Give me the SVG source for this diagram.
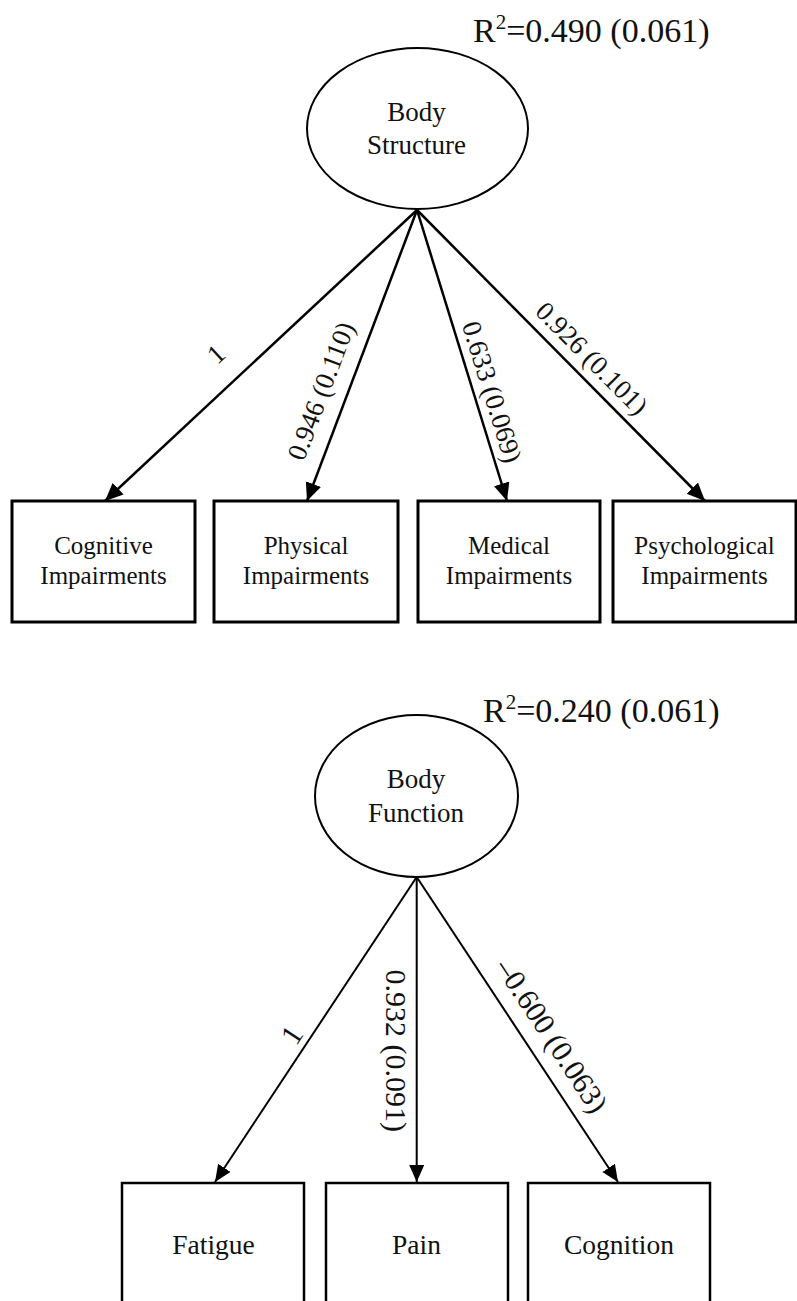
<svg xmlns="http://www.w3.org/2000/svg" width="797" height="1301" viewBox="0 0 797 1301">
  <style>
    text { font-family: "Liberation Serif", "Times New Roman", serif; fill: #111; }
    .latent { fill: #fff; stroke: #000; stroke-width: 2; }
    .obs { fill: #fff; stroke: #000; stroke-width: 3; }
    .obs2 { fill: #fff; stroke: #000; stroke-width: 2.5; }
    .edge { stroke: #000; stroke-width: 2.5; fill: none; marker-end: url(#ah); }
    .edge2 { stroke: #000; stroke-width: 2; fill: none; marker-end: url(#ah2); }
    .r2 { font-size: 34px; }
    .lname { font-size: 27px; text-anchor: middle; }
    .oname { font-size: 25px; text-anchor: middle; }
    .oname2 { font-size: 27.5px; text-anchor: middle; }
    .elab { font-size: 27px; text-anchor: middle; }
    .elab2 { font-size: 30px; text-anchor: middle; }
  </style>
  <defs>
    <marker id="ah" markerWidth="20" markerHeight="18" refX="18" refY="8" orient="auto" markerUnits="userSpaceOnUse">
      <path d="M0,0 L18,8 L0,16 z" fill="#000"/>
    </marker>
    <marker id="ah2" markerWidth="20" markerHeight="18" refX="17" refY="7.5" orient="auto" markerUnits="userSpaceOnUse">
      <path d="M0,0 L17,7.5 L0,15 z" fill="#000"/>
    </marker>
  </defs>
  <rect width="797" height="1301" fill="#fff"/>

  <!-- Body Structure model -->
  <g id="connectors-structure">
    <line class="edge" x1="417" y1="210" x2="105" y2="501"/>
    <line class="edge" x1="417" y1="210" x2="307" y2="501"/>
    <line class="edge" x1="417" y1="210" x2="507" y2="501"/>
    <line class="edge" x1="417" y1="210" x2="705" y2="501"/>
    <text class="elab" transform="translate(216,354) rotate(-43)" y="9">1</text>
    <text class="elab" transform="translate(321,391) rotate(-69.3)" y="9">0.946 (0.110)</text>
    <text class="elab" transform="translate(492,392) rotate(72.8)" y="9">0.633 (0.069)</text>
    <text class="elab" transform="translate(591.7,358.3) rotate(45.3)" y="9">0.926 (0.101)</text>
  </g>

  <g id="body-structure">
    <ellipse class="latent" cx="417.5" cy="128.5" rx="110.5" ry="80.5"/>
    <text class="lname" x="416.5" y="121">Body</text>
    <text class="lname" x="416.5" y="154">Structure</text>
    <text class="r2" x="473" y="42">R<tspan font-size="21" dy="-13">2</tspan><tspan dy="13">=0.490 (0.061)</tspan></text>
  </g>

  <g id="cognitive-impairments">
    <rect class="obs" x="12" y="501" width="183" height="121"/>
    <text class="oname" x="103.5" y="554">Cognitive</text>
    <text class="oname" x="103.5" y="584">Impairments</text>
  </g>
  <g id="physical-impairments">
    <rect class="obs" x="214" y="501" width="184" height="121"/>
    <text class="oname" x="306" y="554">Physical</text>
    <text class="oname" x="306" y="584">Impairments</text>
  </g>
  <g id="medical-impairments">
    <rect class="obs" x="418" y="501" width="182" height="121"/>
    <text class="oname" x="509" y="554">Medical</text>
    <text class="oname" x="509" y="584">Impairments</text>
  </g>
  <g id="psychological-impairments">
    <rect class="obs" x="613" y="501" width="183" height="121"/>
    <text class="oname" x="704.5" y="554">Psychological</text>
    <text class="oname" x="704.5" y="584">Impairments</text>
  </g>

  <!-- Body Function model -->
  <g id="connectors-function">
    <line class="edge2" x1="416.7" y1="877" x2="215" y2="1182"/>
    <line class="edge2" x1="416.7" y1="877" x2="416.7" y2="1182"/>
    <line class="edge2" x1="416.7" y1="877" x2="618" y2="1182"/>
    <text class="elab2" transform="translate(291.7,1035) rotate(-56.6)" y="10">1</text>
    <text class="elab2" transform="translate(395.7,1050.7) rotate(90)" y="10">0.932 (0.091)</text>
    <text class="elab2" transform="translate(551.7,1035.7) rotate(56.6)" y="10">–0.600 (0.063)</text>
  </g>

  <g id="body-function">
    <ellipse class="latent" cx="416.5" cy="796" rx="101.5" ry="81"/>
    <text class="lname" x="416" y="788">Body</text>
    <text class="lname" x="416" y="822">Function</text>
    <text class="r2" x="483" y="722">R<tspan font-size="21" dy="-13">2</tspan><tspan dy="13">=0.240 (0.061)</tspan></text>
  </g>

  <g id="fatigue">
    <rect class="obs2" x="122" y="1183" width="182" height="140"/>
    <text class="oname2" x="213.5" y="1254">Fatigue</text>
  </g>
  <g id="pain">
    <rect class="obs2" x="326" y="1183" width="182" height="140"/>
    <text class="oname2" x="416.5" y="1254">Pain</text>
  </g>
  <g id="cognition">
    <rect class="obs2" x="528" y="1183" width="182" height="140"/>
    <text class="oname2" x="619" y="1254">Cognition</text>
  </g>
</svg>
